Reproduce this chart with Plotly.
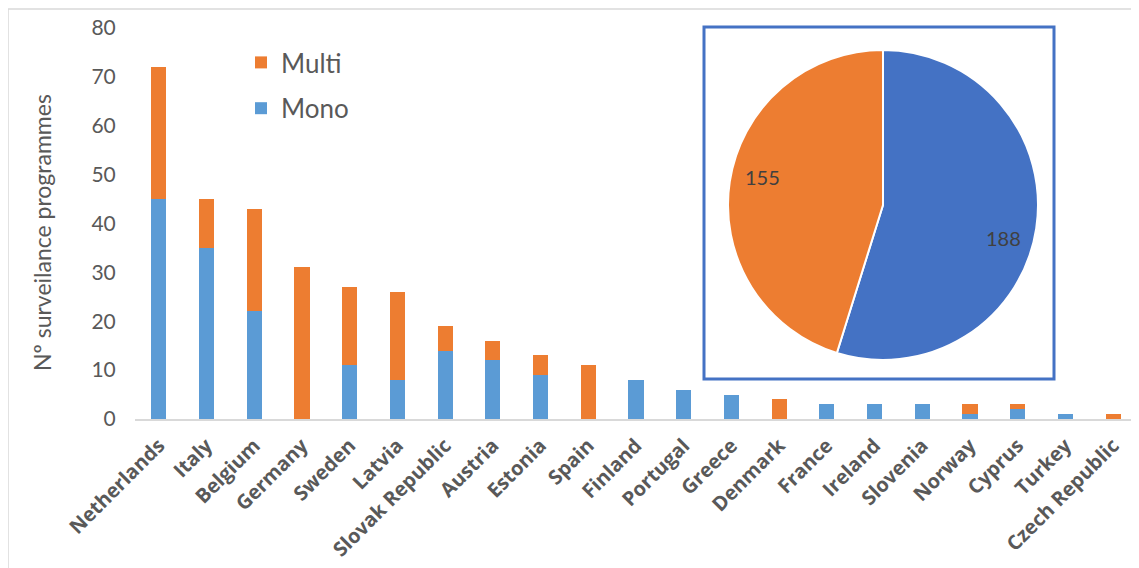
import plotly.graph_objects as go

countries = ["Netherlands", "Italy", "Belgium", "Germany", "Sweden", "Latvia",
             "Slovak Republic", "Austria", "Estonia", "Spain", "Finland", "Portugal",
             "Greece", "Denmark", "France", "Ireland", "Slovenia", "Norway", "Cyprus",
             "Turkey", "Czech Republic"]
mono = [45, 35, 22, 0, 11, 8, 14, 12, 9, 0, 8, 6, 5, 0, 3, 3, 3, 1, 2, 1, 0]
multi = [27, 10, 21, 31, 16, 18, 5, 4, 4, 11, 0, 0, 0, 4, 0, 0, 0, 2, 1, 0, 1]

pie_labels = ["Mono", "Multi"]
pie_values = [188, 155]

y_title = "Nº surveilance programmes"

OFF = 8  # page body margin
W, H = 1139 - OFF, 568 - OFF
# plot area in screenshot pixels: x 135..1137, y 28..419
L, R, T, B = 135 - OFF, 1139 - 1137, 28 - OFF, 568 - 419
pw, ph = W - L - R, H - T - B

def px(x):
    return (x - OFF - L) / pw

def py(y):
    return (H - B - (y - OFF)) / ph

FONT = "Lato"

fig = go.Figure()
fig.add_trace(go.Bar(x=countries, y=mono, name="Mono", marker_color="#5B9BD5",
                     marker_line_width=0, legendgroup="mono", legendrank=2))
fig.add_trace(go.Bar(x=countries, y=multi, name="Multi", marker_color="#ED7D31",
                     marker_line_width=0, legendgroup="multi", legendrank=1))

fig.add_trace(go.Pie(labels=pie_labels, values=pie_values, sort=False,
                     direction="clockwise", rotation=0,
                     marker=dict(colors=["#4472C4", "#ED7D31"],
                                 line=dict(color="white", width=2)),
                     textinfo="none", showlegend=False, hoverinfo="label+value",
                     domain=dict(x=[px(728), px(1038)], y=[py(360), py(50)])))

pie_label_pos = [(1003, 238), (762, 177)]
annotations = []
for v, (ax_, ay_) in zip(pie_values, pie_label_pos):
    annotations.append(dict(xref="paper", yref="paper", x=px(ax_), y=py(ay_),
                            xanchor="center", yanchor="middle",
                            text=str(v), showarrow=False,
                            font=dict(size=20, color="#404040", family=FONT)))
annotations.append(dict(xref="paper", yref="paper", x=px(42), y=py(233),
                        xanchor="center", yanchor="middle",
                        text=y_title, textangle=-90, showarrow=False,
                        font=dict(size=23, color="#595959", family=FONT)))

fig.update_layout(
    width=W, height=H,
    margin=dict(l=L, r=R, t=T, b=B),
    paper_bgcolor="white", plot_bgcolor="white",
    barmode="stack", bargap=0.68,
    font=dict(family=FONT, color="#595959"),
    showlegend=True,
    legend=dict(x=px(241), y=py(39), xanchor="left", yanchor="top",
                traceorder="grouped", font=dict(size=26, color="#595959"),
                itemwidth=30, tracegroupgap=9, bgcolor="rgba(0,0,0,0)"),
    xaxis=dict(tickangle=-45, tickfont=dict(size=20, color="#595959",
                                             family="Open Sans", weight="bold"),
               showline=True, linecolor="#D9D9D9", linewidth=2,
               ticks="", showgrid=False, automargin=False, ticklabelstandoff=5),
    yaxis=dict(range=[0, 80], dtick=10, showgrid=False, zeroline=False,
               showline=False, tickfont=dict(size=21, color="#595959"),
               ticks="outside", ticklen=14, tickcolor="white", automargin=False),
    annotations=annotations,
    shapes=[
        dict(type="rect", xref="paper", yref="paper",
             x0=px(704), x1=px(1054), y0=py(379), y1=py(27),
             line=dict(color="#4472C4", width=3), fillcolor="rgba(0,0,0,0)"),
        dict(type="rect", xref="paper", yref="paper",
             x0=px(8), x1=px(1160), y0=py(600), y1=py(9),
             line=dict(color="#D9D9D9", width=1.5), fillcolor="rgba(0,0,0,0)"),
    ],
)

fig.write_html("out.html")
